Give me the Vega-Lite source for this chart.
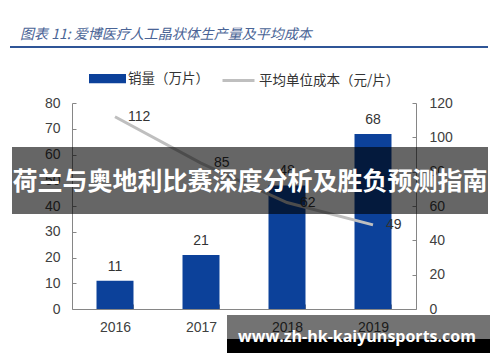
{
  "$schema": "https://vega.github.io/schema/vega-lite/v6.json",
  "width": 344,
  "height": 206,
  "autosize": {"type": "none"},
  "padding": {"left": 72, "top": 103, "right": 84, "bottom": 53},
  "background": "white",
  "title": {
    "text": "图表 11: 爱博医疗人工晶状体生产量及平均成本",
    "anchor": "start",
    "frame": "group",
    "font": "Noto Sans CJK SC",
    "fontSize": 14,
    "fontStyle": "italic",
    "fontWeight": "normal",
    "color": "#4a6496",
    "dx": -52,
    "offset": 4
  },
  "config": {
    "view": {"stroke": null},
    "legend": {"padding": 0}
  },
  "data": {
    "values": [
      {"year": "2016", "sales": 11, "cost": 112},
      {"year": "2017", "sales": 21, "cost": 85},
      {"year": "2018", "sales": 48, "cost": 62},
      {"year": "2019", "sales": 68, "cost": 49}
    ]
  },
  "encoding": {
    "x": {
      "field": "year",
      "type": "ordinal",
      "scale": {"paddingInner": 0.57, "paddingOuter": 0.285},
      "axis": {
        "title": null,
        "labelAngle": 0,
        "domainColor": "#868686",
        "tickColor": "#868686",
        "tickBand": "extent",
        "tickSize": -5,
        "labelPadding": 16,
        "labelFont": "Liberation Sans",
        "labelFontSize": 14,
        "labelColor": "#404040"
      }
    }
  },
  "layer": [
    {
      "encoding": {
        "y": {
          "field": "sales",
          "type": "quantitative",
          "scale": {"domain": [0, 80]},
          "axis": {
            "title": null,
            "values": [0, 10, 20, 30, 40, 50, 60, 70, 80],
            "labelOverlap": false,
            "grid": false,
            "domainColor": "#868686",
            "tickColor": "#868686",
            "tickSize": -4,
            "labelPadding": 16,
            "labelFont": "Liberation Sans",
            "labelFontSize": 14,
            "labelColor": "#404040"
          }
        }
      },
      "layer": [
        {
          "mark": {"type": "bar"},
          "encoding": {
            "fill": {
              "datum": "销量（万片）",
              "type": "nominal",
              "scale": {"range": ["#0c419a"]},
              "legend": {
                "title": null,
                "orient": "none",
                "legendX": 17,
                "legendY": -43,
                "symbolType": "M-1,-0.25H1V0.25H-1Z",
                "symbolSize": 1369,
                "symbolStrokeWidth": 0,
                "symbolOpacity": 1,
                "labelOffset": 2,
                "labelFont": "Noto Sans CJK SC",
                "labelFontSize": 13.5,
                "labelColor": "#333333"
              }
            }
          }
        },
        {
          "mark": {"type": "text", "dy": -14, "baseline": "middle", "font": "Liberation Sans", "fontSize": 14, "color": "#333333"},
          "encoding": {
            "text": {"field": "sales", "type": "quantitative"}
          }
        }
      ]
    },
    {
      "encoding": {
        "y": {
          "field": "cost",
          "type": "quantitative",
          "scale": {"domain": [0, 120]},
          "axis": {
            "orient": "right",
            "title": null,
            "values": [0, 20, 40, 60, 80, 100, 120],
            "labelOverlap": false,
            "grid": false,
            "domainColor": "#868686",
            "tickColor": "#868686",
            "tickSize": -4,
            "labelPadding": 17,
            "labelFont": "Liberation Sans",
            "labelFontSize": 14,
            "labelColor": "#404040"
          }
        }
      },
      "layer": [
        {
          "mark": {"type": "line", "strokeWidth": 3},
          "encoding": {
            "stroke": {
              "datum": "平均单位成本（元/片）",
              "type": "nominal",
              "scale": {"range": ["#bfbfbf"]},
              "legend": {
                "title": null,
                "orient": "none",
                "legendX": 149,
                "legendY": -40,
                "symbolType": "stroke",
                "symbolSize": 1024,
                "symbolStrokeWidth": 3,
                "labelOffset": 3,
                "labelFont": "Noto Sans CJK SC",
                "labelFontSize": 13.5,
                "labelColor": "#333333"
              }
            }
          }
        },
        {
          "mark": {"type": "text", "align": "left", "dx": 13, "baseline": "middle", "font": "Liberation Sans", "fontSize": 14, "color": "#333333"},
          "encoding": {
            "text": {"field": "cost", "type": "quantitative"}
          }
        }
      ]
    },
    {
      "data": {"values": [{"rule": "title"}]},
      "mark": {"type": "rule", "stroke": "#2f5597", "strokeWidth": 2},
      "encoding": {"x": {"value": -62}, "x2": {"value": 416}, "y": {"value": -56}}
    },
    {
      "data": {"values": [{"label": "荷兰与奥地利比赛深度分析及胜负预测指南"}]},
      "layer": [
        {
          "mark": {"type": "rect", "fill": "#000000", "opacity": 0.6},
          "encoding": {"x": {"value": -60}, "x2": {"value": 416}, "y": {"value": 44}, "y2": {"value": 111}}
        },
        {
          "mark": {"type": "text", "font": "Noto Sans CJK SC", "fontWeight": "bold", "fontSize": 25, "color": "#ffffff", "align": "center", "baseline": "middle"},
          "encoding": {"text": {"field": "label"}, "x": {"value": 178}, "y": {"value": 79}}
        }
      ]
    },
    {
      "data": {"values": [{"label": "www.zh-hk-kaiyunsports.com"}]},
      "layer": [
        {
          "mark": {"type": "rect", "fill": "#000000", "opacity": 0.55},
          "encoding": {"x": {"value": 155}, "x2": {"value": 418}, "y": {"value": 212}, "y2": {"value": 236}}
        },
        {
          "mark": {"type": "rect", "fill": "#000000"},
          "encoding": {"x": {"value": 155}, "x2": {"value": 418}, "y": {"value": 236}, "y2": {"value": 250}}
        },
        {
          "mark": {"type": "text", "font": "Open Sans", "fontWeight": "bold", "fontSize": 16, "color": "#ffffff", "align": "center", "baseline": "middle"},
          "encoding": {"text": {"field": "label"}, "x": {"value": 285}, "y": {"value": 234}}
        }
      ]
    }
  ],
  "resolve": {"scale": {"y": "independent"}}
}
